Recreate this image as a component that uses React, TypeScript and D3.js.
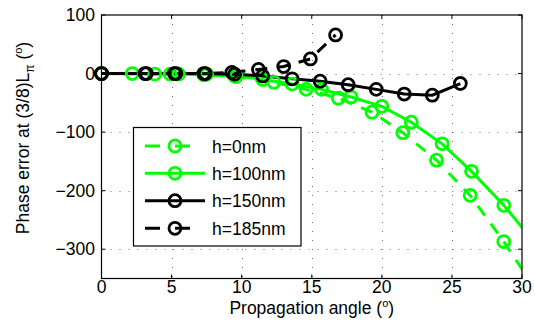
import React from "react";
import * as d3 from "d3";

const xTicks = [0, 5, 10, 15, 20, 25, 30];
const yTicks = [100, 0, -100, -200, -300];

const h0X = [0, 2.2, 4.9, 7.3, 9.6, 12.3, 14.6, 16.9, 19.3, 21.5, 23.9, 26.3, 28.7, 31.0];
const h0Y = [0, 0, -1, -2, -5, -15, -27, -42, -66, -101, -148, -208, -287, -370];

const h100X = [0, 3.8, 5.5, 7.5, 9.5, 11.5, 13.6, 15.7, 17.8, 20.0, 22.1, 24.3, 26.4, 28.7, 31.0];
const h100Y = [0, -1, -1, -1, -4, -10, -18, -27, -40, -56, -83, -120, -167, -225, -292];

const h150X = [0, 3.2, 5.3, 7.4, 9.5, 11.5, 13.6, 15.6, 17.6, 19.6, 21.6, 23.6, 25.6];
const h150Y = [0, 0, 0, 0, -1, -4, -9, -13, -19, -27, -35, -37, -17];

const h185X = [0, 3.1, 5.2, 7.3, 9.3, 11.2, 13.0, 14.9, 16.7];
const h185Y = [0, 0, 0, 0, 2, 7, 12, 25, 66];

const seriesNames = ["h=0nm", "h=100nm", "h=150nm", "h=185nm"];
const seriesColors = ["#00ff00", "#00ff00", "#000000", "#000000"];
const seriesDash = [true, false, false, true];

const W = 535, H = 330;
const L = 101.5, R = 522, T = 15, B = 278.5;

export default function App() {
  const x = d3.scaleLinear().domain([0, 30]).range([L, R]);
  const y = d3.scaleLinear().domain([-350, 100]).range([B, T]);
  const xs = [h0X, h100X, h150X, h185X];
  const ys = [h0Y, h100Y, h150Y, h185Y];
  const line = d3.line<[number, number]>().x(d => x(d[0])).y(d => y(d[1]));
  const font = "Liberation Sans, Arial, sans-serif";
  const lg = { x0: 133.5, y0: 127.5, w: 167.5, h: 118.5 };
  const rowY = [146, 173.3, 200.7, 228.3];

  return (
    <svg width={W} height={H} style={{ position: "absolute", left: 0, top: 0, background: "#fff" }} fontFamily={font}>
      <defs>
        <clipPath id="plotclip">
          <rect x={L} y={T} width={R - L} height={B - T} />
        </clipPath>
      </defs>
      <rect x={0} y={0} width={W} height={H} fill="#fff" />
      {/* grid */}
      <g stroke="#000" strokeOpacity={0.55} strokeWidth={1} strokeDasharray="1,8">
        {xTicks.slice(1, -1).map(t => (
          <line key={"gx" + t} x1={Math.round(x(t)) + 0.5} x2={Math.round(x(t)) + 0.5} y1={T} y2={B} />
        ))}
        {yTicks.slice(1).map(t => (
          <line key={"gy" + t} x1={L} x2={R} y1={Math.round(y(t)) + 0.5} y2={Math.round(y(t)) + 0.5} />
        ))}
      </g>
      {/* ticks */}
      <g stroke="#000" strokeWidth={1}>
        {xTicks.map(t => (
          <g key={"tx" + t}>
            <line x1={x(t)} x2={x(t)} y1={B} y2={B - 4} />
            <line x1={x(t)} x2={x(t)} y1={T} y2={T + 4} />
          </g>
        ))}
        {yTicks.map(t => (
          <g key={"ty" + t}>
            <line x1={L} x2={L + 4} y1={y(t)} y2={y(t)} />
            <line x1={R} x2={R - 4} y1={y(t)} y2={y(t)} />
          </g>
        ))}
      </g>
      {/* data lines */}
      <g clipPath="url(#plotclip)" fill="none">
        {xs.map((xa, i) => (
          <path
            key={"l" + i}
            d={line(xa.map((v, j) => [v, ys[i][j]] as [number, number])) || ""}
            stroke={seriesColors[i]}
            strokeWidth={3}
            strokeDasharray={seriesDash[i] ? "12,10" : undefined}
          />
        ))}
      </g>
      {/* markers */}
      <g fill="none" strokeWidth={2.8}>
        {xs.map((xa, i) =>
          xa.map((v, j) =>
            v <= 30 && ys[i][j] >= -350 ? (
              <circle key={"m" + i + "-" + j} cx={x(v)} cy={y(ys[i][j])} r={6} stroke={seriesColors[i]} />
            ) : null
          )
        )}
      </g>
      {/* frame */}
      <rect x={L} y={T} width={R - L} height={B - T} fill="none" stroke="#000" strokeWidth={1.2} />
      {/* tick labels */}
      <g fontSize={17.5} fill="#000">
        {xTicks.map(t => (
          <text key={"xl" + t} x={x(t)} y={293} textAnchor="middle">{String(t)}</text>
        ))}
        {yTicks.map(t => (
          <text key={"yl" + t} x={95} y={y(t) + 6} textAnchor="end">{t < 0 ? "\u2212" + Math.abs(t) : String(t)}</text>
        ))}
      </g>
      <text x={(L + R) / 2} y={314} textAnchor="middle" fontSize={17.5}>
        Propagation angle (<tspan fontSize={11} dy={-7}>o</tspan><tspan dy={7}>)</tspan>
      </text>
      <text transform={`translate(29,${138}) rotate(-90)`} textAnchor="middle" fontSize={17.5}>
        Phase error at (3/8)L<tspan fontSize={12} dy={5}>π</tspan><tspan dy={-5}> (</tspan><tspan fontSize={11} dy={-7}>o</tspan><tspan dy={7}>)</tspan>
      </text>
      {/* legend */}
      <rect x={lg.x0} y={lg.y0} width={lg.w} height={lg.h} fill="#fff" stroke="#000" strokeWidth={1.2} />
      {seriesNames.map((n, i) => (
        <g key={"lg" + i}>
          <line x1={145} x2={205} y1={rowY[i]} y2={rowY[i]} stroke={seriesColors[i]} strokeWidth={3}
            strokeDasharray={seriesDash[i] ? "15,15" : undefined} />
          <circle cx={175} cy={rowY[i]} r={6} fill="none" stroke={seriesColors[i]} strokeWidth={2.8} />
          <text x={212} y={rowY[i] + 6.5} fontSize={17.5}>{n}</text>
        </g>
      ))}
    </svg>
  );
}
